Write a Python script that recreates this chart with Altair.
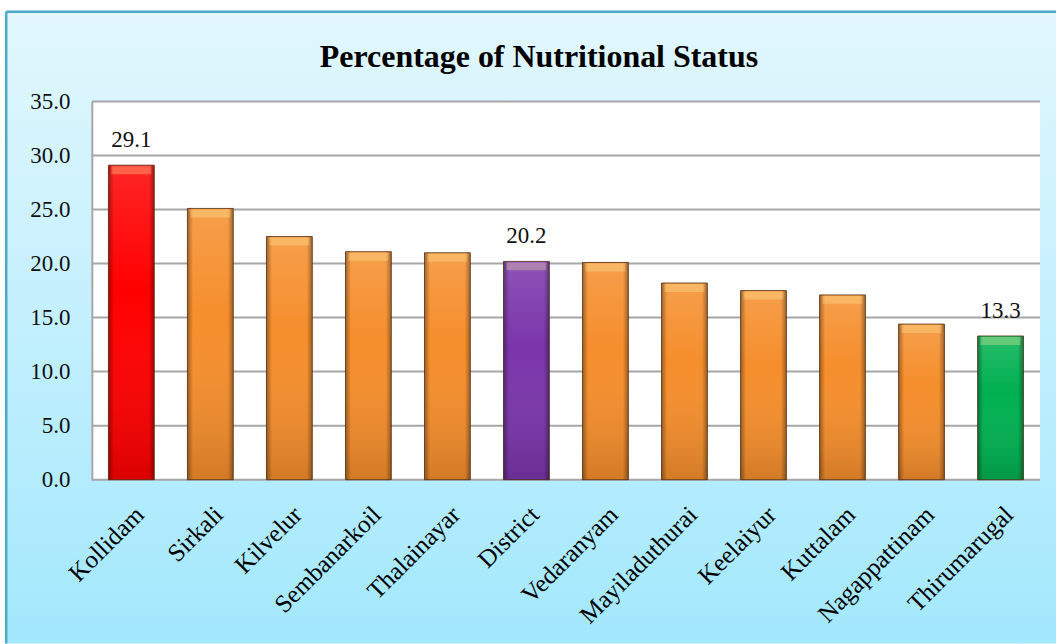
import altair as alt
import pandas as pd

districts = ["Kollidam", "Sirkali", "Kilvelur", "Sembanarkoil", "Thalainayar", "District",
             "Vedaranyam", "Mayiladuthurai", "Keelaiyur", "Kuttalam", "Nagappattinam", "Thirumarugal"]
values = [29.1, 25.1, 22.5, 21.1, 21.0, 20.2, 20.1, 18.2, 17.5, 17.1, 14.4, 13.3]
groups = ["Highest", "Block", "Block", "Block", "Block", "District",
          "Block", "Block", "Block", "Block", "Block", "Lowest"]
labels = ["29.1", "", "", "", "", "20.2", "", "", "", "", "", "13.3"]
y_ticks = [0, 5, 10, 15, 20, 25, 30, 35]
title_text = ["Percentage of  Nutritional Status"]

group_domain = ["Highest", "Block", "District", "Lowest"]
group_colors = ["#FF0000", "#F58E2C", "#7A35AA", "#00B050"]

W, H = 950, 379
FONT = "Liberation Serif"

df = pd.DataFrame({"district": districts, "value": values, "group": groups, "label": labels})

yscale = alt.Scale(domain=[0, 35], nice=False, zero=True)
xscale = alt.Scale(paddingInner=0.42, paddingOuter=0.21)

yaxis = alt.Axis(title=None, values=y_ticks, format=".1f", labelFont=FONT,
                 labelFontSize=23, labelColor="#111111", labelPadding=22,
                 domain=True, domainColor="#A6A6A6", domainWidth=2, ticks=False,
                 grid=False, zindex=1)
xaxis = alt.Axis(title=None, labelAngle=-45, labelFont=FONT, labelFontSize=25,
                 labelColor="#000000", domain=False, ticks=False, labelPadding=22,
                 zindex=1)

one = pd.DataFrame({"k": [0]})

bg = alt.Chart(one).mark_rect(
    fill=alt.LinearGradient(gradient="linear", x1=0, x2=0, y1=0, y2=1,
                            stops=[alt.GradientStop(color="#E2F7FD", offset=0),
                                   alt.GradientStop(color="#A3E8FD", offset=1)])
).encode(x=alt.value(-87), x2=alt.value(W + 16), y=alt.value(-91), y2=alt.value(H + 164))

border_left = alt.Chart(one).mark_rule(color="#4BACC6", strokeWidth=2.5).encode(
    x=alt.value(-85.75), y=alt.value(-89.75), y2=alt.value(H + 164))
border_top = alt.Chart(one).mark_rule(color="#4BACC6", strokeWidth=2.5).encode(
    y=alt.value(-89.75), x=alt.value(-85.75), x2=alt.value(W + 16))

plot_bg = alt.Chart(one).mark_rect(fill="white").encode(
    x=alt.value(0), x2=alt.value(W), y=alt.value(0), y2=alt.value(H))

grid = alt.Chart(pd.DataFrame({"value": y_ticks})).mark_rule(color="#A6A6A6", strokeWidth=2).encode(
    y=alt.Y("value:Q", scale=yscale, axis=yaxis), x=alt.value(0), x2=alt.value(W))

base = alt.Chart(df).encode(
    x=alt.X("district:N", sort=districts, scale=xscale, axis=xaxis),
    y=alt.Y("value:Q", scale=yscale, axis=yaxis),
)

bars = base.mark_bar().encode(
    color=alt.Color("group:N", scale=alt.Scale(domain=group_domain, range=group_colors), legend=None))

shade_v = base.mark_bar(
    fill=alt.LinearGradient(gradient="linear", x1=0, x2=0, y1=0, y2=1,
                            stops=[alt.GradientStop(color="rgba(255,255,255,0.15)", offset=0),
                                   alt.GradientStop(color="rgba(255,255,255,0)", offset=0.4),
                                   alt.GradientStop(color="rgba(0,0,0,0.14)", offset=1)]))

shade_h = base.mark_bar(
    fill=alt.LinearGradient(gradient="linear", x1=0, x2=1, y1=0, y2=0,
                            stops=[alt.GradientStop(color="rgba(0,0,0,0.35)", offset=0),
                                   alt.GradientStop(color="rgba(0,0,0,0)", offset=0.12),
                                   alt.GradientStop(color="rgba(0,0,0,0)", offset=0.88),
                                   alt.GradientStop(color="rgba(0,0,0,0.35)", offset=1)]),
    stroke="#4A2408", strokeOpacity=0.75, strokeWidth=1)

bevel = base.mark_tick(thickness=8, size=40, yOffset=5, color="#FFF3A0", opacity=0.3)

text = base.mark_text(font=FONT, fontSize=23, dy=-18, baseline="alphabetic", color="#111111").encode(
    text="label:N").transform_filter(alt.datum.label != "")

title = alt.Chart(pd.DataFrame({"t": title_text})).mark_text(
    font=FONT, fontSize=32, fontWeight="bold", align="center", baseline="alphabetic", color="#000000"
).encode(x=alt.value(540 - 92), y=alt.value(67 - 101), text="t:N")

chart = alt.layer(bg, border_left, border_top, plot_bg, grid, bars, shade_v, shade_h, bevel, text, title).properties(
    width=W, height=H, padding={"left": 5, "top": 10, "right": 0, "bottom": 0}
).configure_view(stroke=None).configure_axis(labelFont=FONT).configure_text(font=FONT)

chart.save("out.html", embed_options={"renderer": "svg", "actions": False})
